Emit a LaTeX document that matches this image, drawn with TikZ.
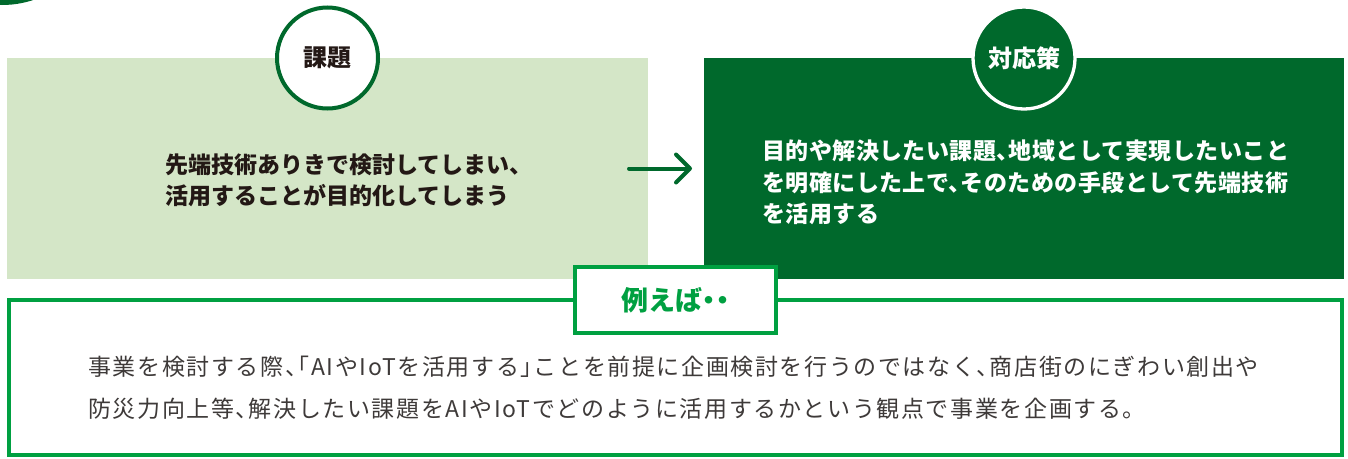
\documentclass[tikz,border=0pt]{standalone}
\usepackage{fontspec}
\newfontfamily\jp{Noto Sans CJK JP}
\newfontfamily\jphead[LetterSpace=2,RawFeature=+halt]{Noto Sans CJK JP}
\newfontfamily\jptag[RawFeature=+halt]{Noto Sans CJK JP}
\newfontfamily\jpbody[LetterSpace=7,RawFeature=+halt]{Noto Sans CJK JP}
\usepackage{xcolor}
\usepackage{tikz}
\usetikzlibrary{positioning,calc,arrows.meta}

\definecolor{palegreen}{HTML}{D4E6C7}
\definecolor{deepgreen}{HTML}{00692C}
\definecolor{brightgreen}{HTML}{00A041}
\definecolor{inkblack}{HTML}{231815}
\definecolor{bodygray}{HTML}{3E3A39}

\begin{document}
\begin{tikzpicture}[x=1pt,y=-1pt,font=\jp,
		problem/.style={fill=palegreen, minimum width=641pt, minimum height=221pt,
		inner sep=0pt, outer sep=0pt},
		measure/.style={fill=deepgreen, minimum width=640pt, minimum height=221pt,
		inner sep=0pt, outer sep=0pt},
		issuecircle/.style={circle, draw=deepgreen, line width=4pt, fill=white,
		minimum size=101pt, inner sep=0pt, text=inkblack,
		font=\jp\bfseries\fontsize{24}{28}\selectfont},
		measurecircle/.style={circle, draw=white, line width=3.3pt, fill=deepgreen,
		minimum size=102pt, inner sep=0pt, text=white,
		font=\jp\bfseries\fontsize{24}{28}\selectfont},
		problemtext/.style={anchor=west, align=left, inner sep=0pt, text=inkblack,
		font=\jp\bfseries\fontsize{23}{31}\selectfont},
		measuretext/.style={anchor=west, align=left, inner sep=0pt, text=white,
		font=\jphead\bfseries\fontsize{23}{31.5}\selectfont},
		casebox/.style={draw=brightgreen, line width=4pt, minimum width=1333pt,
		minimum height=155pt, inner sep=0pt, outer sep=0pt},
		extag/.style={draw=brightgreen, line width=4pt, fill=white, minimum width=201pt,
		minimum height=66pt, inner sep=0pt, text=brightgreen,
		font=\jptag\bfseries\fontsize{27}{30}\selectfont},
		casetext/.style={anchor=west, align=left, inner sep=0pt, text=bodygray,
		font=\jpbody\fontsize{23}{42}\selectfont},
		flow/.style={draw=deepgreen, line width=4pt, line cap=round,
		-{Straight Barb[length=14pt,width=28pt,round]}}]

	\useasboundingbox (0,0) rectangle (1348,458);
	\begin{scope}
		\clip (0,0) rectangle (1348,458);
		\fill[deepgreen] (2,-95) circle[radius=100];
	\end{scope}

	\node[problem] (problemBox) at (327.5,168.5) {};
	\node[measure, right=56pt of problemBox] (measureBox) {};
	\node[issuecircle] (issueMark) at (problemBox.north) {課題};
	\node[measurecircle] (measureMark) at (measureBox.north) {対応策};

	\node[problemtext] (problemText) at (165,180.5)
		{先端技術ありきで検討してしまい、\\活用することが目的化してしまう};
	\node[measuretext] (measureText) at (762,182.5)
		{目的や解決したい課題、地域として実現したいこと\\を明確にした上で、そのための手段として先端技術\\を活用する};

	\draw[flow] ([xshift=-19pt]problemBox.east) -- ([xshift=-12pt]measureBox.west);

	\node[casebox] (caseBox) at (675.5,377.5) {};
	\node[extag] (exampleTag) at (caseBox.north) {例えば・・};
	\node[casetext] (caseText) at (88,388)
		{事業を検討する際、「AIやIoTを活用する」ことを前提に企画検討を行うのではなく、商店街のにぎわい創出や\\防災力向上等、解決したい課題をAIやIoTでどのように活用するかという観点で事業を企画する。};
\end{tikzpicture}
\end{document}
